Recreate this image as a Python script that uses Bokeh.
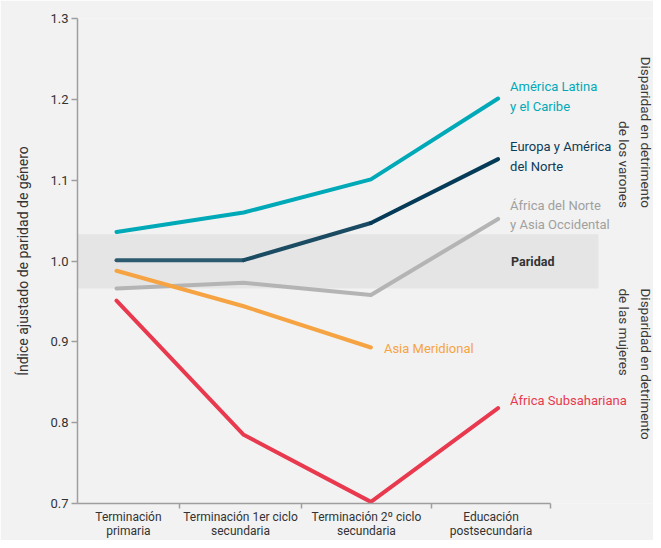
import math
from bokeh.plotting import figure
from bokeh.models import Range1d, FixedTicker
from bokeh.core.properties import value
from bokeh.embed import file_html
from bokeh.resources import INLINE

# ---------------- data ----------------
categories = ["Terminación\nprimaria",
              "Terminación 1er ciclo\nsecundaria",
              "Terminación 2º ciclo\nsecundaria",
              "Educación\npostsecundaria"]
stages = [0, 1, 2, 3]

america_latina = [1.036, 1.060, 1.101, 1.201]
europa_america_norte = [1.001, 1.001, 1.047, 1.126]
africa_norte_asia_occ = [0.966, 0.973, 0.958, 1.052]
asia_meridional = [0.988, 0.944, 0.893]
africa_subsahariana = [0.951, 0.785, 0.702, 0.818]

paridad_low = 0.966
paridad_high = 1.033

y_ticks = [0.7, 0.8, 0.9, 1.0, 1.1, 1.2, 1.3]

# ---------------- style ----------------
FONT = "Roboto"
BG = "#f2f2f2"
AXIS = "#9e9e9e"
TXT = "#333333"

C_AL = "#00a9b7"
C_EU = ["#2c5b6f", "#1b4b63", "#063b58"]
C_EU_T = "#0d3c58"
C_AN = "#b4b4b4"
C_AN_T = "#a0a0a0"
C_AM = "#f6a443"
C_AS = "#e8394f"

x_lo, x_hi = -0.3066, 4.2217
cat_label_pos = [0.094, 0.975, 1.965, 2.944]
cat_sep_pos = [0.495, 1.454, 2.476, 3.412]
band_right = 3.789

p = figure(width=653, height=540, output_backend="svg", toolbar_location=None,
           x_range=Range1d(x_lo, x_hi), y_range=Range1d(0.7, 1.3),
           min_border_left=77, min_border_right=0, min_border_top=18,
           min_border_bottom=30)
p.background_fill_color = BG
p.border_fill_color = BG
p.outline_line_color = None
p.grid.grid_line_color = None

# parity band
p.quad(left=[x_lo], right=[band_right], bottom=[paridad_low], top=[paridad_high],
       fill_color="#e5e5e5", line_color=None)

LW = 4
p.line(stages, america_latina, line_color=C_AL, line_width=LW, line_cap="round", line_join="round")
p.segment(x0=stages[:-1], y0=europa_america_norte[:-1], x1=stages[1:], y1=europa_america_norte[1:],
          line_color=C_EU, line_width=LW, line_cap="round")
p.line(stages, africa_norte_asia_occ, line_color=C_AN, line_width=LW, line_cap="round", line_join="round")
p.line(stages[:len(asia_meridional)], asia_meridional, line_color=C_AM, line_width=LW,
       line_cap="round", line_join="round")
p.line(stages, africa_subsahariana, line_color=C_AS, line_width=LW, line_cap="round", line_join="round")

def lab(x, y, t, color, dx=12, dy=0, bold=False, size="13px"):
    p.text(x=[x], y=[y], text=[t], x_offset=dx, y_offset=dy,
           text_font=value(FONT), text_font_size=size, text_color=color,
           text_baseline="middle", text_align="left", text_line_height=1.3,
           text_font_style="bold" if bold else "normal")

lab(stages[-1], america_latina[-1], "América Latina\ny el Caribe", C_AL, dy=-2)
lab(stages[-1], europa_america_norte[-1], "Europa y América\ndel Norte", C_EU_T, dy=-2.5)
lab(stages[-1], africa_norte_asia_occ[-1], "África del Norte\ny Asia Occidental", C_AN_T, dy=-4)
lab(stages[-1], 1.0, "Paridad", TXT, dx=13, bold=True, size="12.5px")
lab(stages[len(asia_meridional) - 1], asia_meridional[-1], "Asia Meridional", C_AM, dx=13, dy=1)
lab(stages[-1], africa_subsahariana[-1], "África Subsahariana", C_AS, dy=-8)

# right side rotated notes
p.text(x=[x_hi], y=[1.0656], text=["Disparidad en detrimento\nde los varones"],
       angle=-math.pi / 2, text_align="right", text_baseline="top",
       text_font=value(FONT), text_font_size="13.5px", text_color="#3a3a3a",
       text_line_height=1.35)
p.text(x=[x_hi], y=[paridad_low], text=["Disparidad en detrimento\nde las mujeres"],
       angle=-math.pi / 2, text_align="left", text_baseline="top",
       text_font=value(FONT), text_font_size="13.5px", text_color="#3a3a3a",
       text_line_height=1.35)

# x axis
xa = p.xaxis[0]
xa.ticker = FixedTicker(ticks=cat_label_pos, minor_ticks=cat_sep_pos)
xa.major_label_overrides = {t: c for t, c in zip(cat_label_pos, categories)}
xa.bounds = (x_lo, cat_sep_pos[-1])
xa.axis_line_color = AXIS
xa.axis_line_width = 1.5
xa.major_tick_line_color = None
xa.major_tick_in = 0
xa.major_tick_out = 5
xa.minor_tick_line_color = AXIS
xa.minor_tick_line_width = 1.5
xa.minor_tick_in = 0
xa.minor_tick_out = 5
xa.major_label_standoff = 1
xa.major_label_text_font = FONT
xa.major_label_text_font_size = "12px"
xa.major_label_text_color = TXT
xa.major_label_text_line_height = 1.0

# y axis
ya = p.yaxis[0]
ya.ticker = FixedTicker(ticks=y_ticks, minor_ticks=[])
ya.major_label_overrides = {t: f"{t:.1f}" for t in y_ticks}
ya.axis_line_color = AXIS
ya.axis_line_width = 1.5
ya.major_tick_line_color = AXIS
ya.major_tick_line_width = 1.5
ya.major_tick_in = 0
ya.major_tick_out = 6
ya.minor_tick_line_color = None
ya.major_label_standoff = 3
ya.major_label_text_font = FONT
ya.major_label_text_font_size = "13px"
ya.major_label_text_color = TXT
ya.axis_label = "Índice ajustado de paridad de género"
ya.axis_label_text_font = FONT
ya.axis_label_text_font_size = "14px"
ya.axis_label_text_font_style = "normal"
ya.axis_label_text_color = TXT
ya.axis_label_standoff = 16

open("out.html", "w").write(file_html(p, INLINE))
